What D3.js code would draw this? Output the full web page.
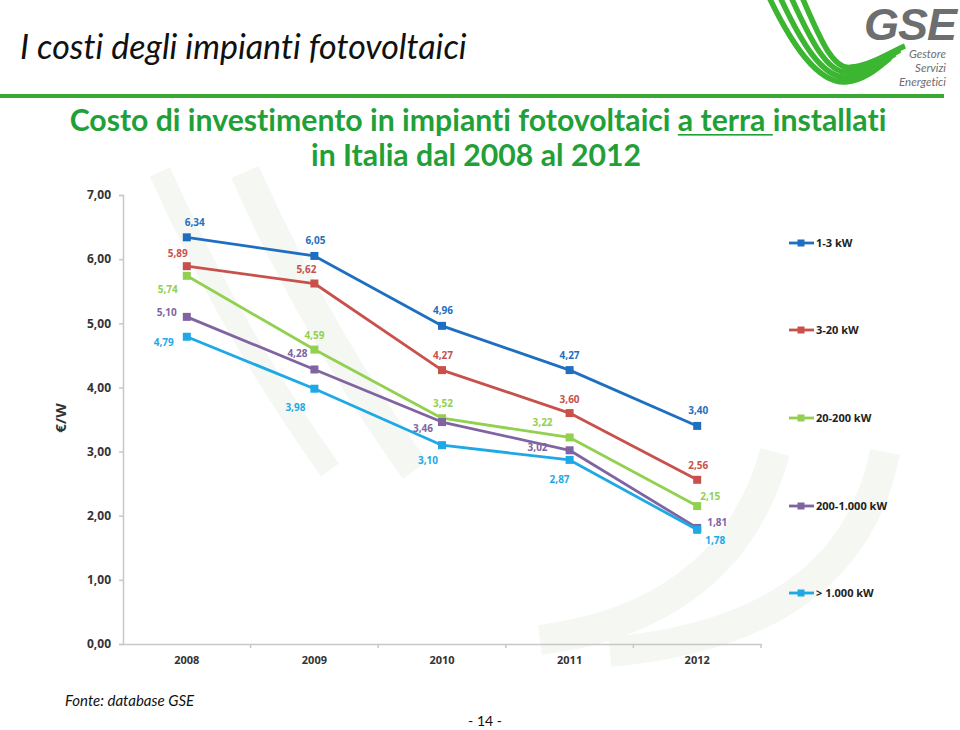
<!DOCTYPE html>
<html><head><meta charset="utf-8">
<script src="https://cdn.jsdelivr.net/npm/d3@7"></script>
<style>body{margin:0;background:#fff} svg{display:block} text{font-variant-ligatures:none;font-feature-settings:"liga" 0}</style>
</head><body><svg id="c" width="960" height="730"></svg>
<script>
// ---- data ----
const years = ["2008","2009","2010","2011","2012"];
const seriesNames = ["1-3 kW","3-20 kW","20-200 kW","200-1.000 kW","> 1.000 kW"];
const s1_3      = [6.34,6.05,4.96,4.27,3.40];
const s3_20     = [5.89,5.62,4.27,3.60,2.56];
const s20_200   = [5.74,4.59,3.52,3.22,2.15];
const s200_1000 = [5.10,4.28,3.46,3.02,1.81];
const s1000     = [4.79,3.98,3.10,2.87,1.78];
const yTicks = [0,1,2,3,4,5,6,7];

// ---- layout / style (kept separate from data) ----
const colors = ["#1f6fc0","#c9514c","#92d050","#8064a2","#1ea9e6"];
const labelOffsets = [
  [[8,-15],[1,-15],[1,-15],[0,-15],[1,-15]],
  [[-9,-13],[-8,-14],[1,-15],[0,-14],[1,-14]],
  [[-19,14],[0,-14],[1,-15],[-27,-15],[13,-10]],
  [[-20,-4],[-17,-16],[-19,6],[-32,-3],[20,-5]],
  [[-23,6],[-19,19],[-14,15],[-10,20],[18,11]]
];
const legendY = [243,330,418,506,593];

const seriesValues = [s1_3,s3_20,s20_200,s200_1000,s1000];
const svg = d3.select("#c");

// faint watermark swooshes
const wm = svg.append("g").attr("fill","none").attr("stroke","#f4f7f2").attr("stroke-linecap","butt");
[[0,22],[85,30]].forEach(([o,w])=>{
  wm.append("path").attr("stroke-width",w)
    .attr("d",`M${160+o},172 Q${230+o},330 ${330+o},470`);
});
wm.append("path").attr("stroke-width",30).attr("d","M540,640 Q730,615 775,452");
wm.append("path").attr("stroke-width",30).attr("d","M610,652 Q850,630 885,452");

// ---- header ----
const title = svg.append("text").attr("x",20).attr("y",59)
  .attr("font-family","Lato, 'Open Sans', sans-serif").attr("font-style","italic")
  .attr("font-size",30).attr("fill","#111").text("I costi degli impianti fotovoltaici");
const tw = title.node().getComputedTextLength();
title.attr("font-size", Math.min(34, 30 * 473 / tw));

svg.append("rect").attr("x",0).attr("y",94).attr("width",944).attr("height",4).attr("fill","#3aaa35");

// logo
const logo = svg.append("g").attr("fill","none").attr("stroke","#3cb531").attr("stroke-width",5.5).attr("stroke-linecap","butt");
[0,1,2,3].forEach(i=>{
  logo.append("path").attr("d",
    `M${769+i*11},-3 C${792+i*9},${45-i*3} ${818+i*5},${84-i*4} ${846+i*2},${82-i*5} C${866+i*2},${80-i*5} ${880+i*4},${66-i*5} ${890+i*5},${58-i*4}`);
});
svg.append("text").attr("x",956).attr("y",40).attr("text-anchor","end")
  .attr("font-family","'Liberation Sans', Arial, sans-serif").attr("font-weight","bold").attr("font-style","italic")
  .attr("font-size",45).attr("fill","#6d6e70").attr("letter-spacing",-1).text("GSE");
[["Gestore",58],["Servizi",72],["Energetici",86]].forEach(([t,y])=>{
  svg.append("text").attr("x",946).attr("y",y).attr("text-anchor","end")
    .attr("font-family","Lato, sans-serif").attr("font-style","italic")
    .attr("font-size",11.5).attr("fill","#6d6e70").text(t);
});

// subtitle
const subColor = "#22a038";
const sub1 = svg.append("text").attr("x",478).attr("y",131).attr("text-anchor","middle")
  .attr("font-family","Lato, sans-serif").attr("font-weight","bold")
  .attr("font-size",26).attr("fill",subColor);
const pre = "Costo di investimento in impianti fotovoltaici ";
const und = "a terra ";
const post = " installati";
sub1.text(pre + und + post);
let w1 = sub1.node().getComputedTextLength();
const fs1 = 26 * 817 / w1;
sub1.attr("font-size",fs1);
w1 = sub1.node().getComputedTextLength();
const n = sub1.node();
const ux0 = 478 - w1/2 + n.getSubStringLength(0, pre.length);
const uw = n.getSubStringLength(pre.length, und.length);
svg.append("rect").attr("x",ux0).attr("y",134).attr("width",uw).attr("height",1.6).attr("fill",subColor);

svg.append("text").attr("x",476).attr("y",166).attr("text-anchor","middle")
  .attr("font-family","Lato, sans-serif").attr("font-weight","bold")
  .attr("font-size",fs1).attr("fill",subColor).text("in Italia dal 2008 al 2012");

// ---- chart ----
const x = d3.scaleBand().domain(years).range([123,761]).paddingInner(0).paddingOuter(0);
const y = d3.scaleLinear().domain([0,7]).range([644,195]);
const cx = d => x(d) + x.bandwidth()/2;

const axisFont = "'Open Sans', Lato, sans-serif";
// y axis
const ya = svg.append("g").attr("transform","translate(123,0)")
  .call(d3.axisLeft(y).tickValues(yTicks).tickSize(4).tickPadding(8)
    .tickFormat(v => d3.format(".2f")(v).replace(".",",")));
ya.select(".domain").attr("stroke","#c8c8c8").attr("stroke-width",1.5);
ya.selectAll(".tick line").attr("stroke","#c8c8c8").attr("stroke-width",1.5);
ya.selectAll(".tick text").attr("font-family",axisFont).attr("font-weight","bold")
  .attr("font-size",12).attr("fill","#333");

// x axis
const xa = svg.append("g").attr("transform","translate(0,644)")
  .call(d3.axisBottom(x).tickSize(0).tickPadding(12));
xa.select(".domain").attr("stroke","#c8c8c8").attr("stroke-width",1.5);
xa.selectAll(".tick text").attr("font-family",axisFont).attr("font-weight","bold")
  .attr("font-size",11).attr("fill","#333");
const bounds = years.slice(1).map(d => x(d)).concat([x(years[years.length-1]) + x.bandwidth()]);
xa.selectAll(".bt").data(bounds).enter().append("line").attr("class","bt")
  .attr("x1",d=>d).attr("x2",d=>d).attr("y1",0).attr("y2",4)
  .attr("stroke","#c8c8c8").attr("stroke-width",1.5);

svg.append("text").attr("transform","translate(66,418) rotate(-90)").attr("text-anchor","middle")
  .attr("font-family",axisFont).attr("font-weight","bold").attr("font-size",15).attr("fill","#333").text("€/W");

// series
const line = d3.line().x((v,i)=>cx(years[i])).y(v=>y(v));
seriesValues.forEach((vals,si)=>{
  const g = svg.append("g");
  g.append("path").datum(vals).attr("d",line).attr("fill","none")
    .attr("stroke",colors[si]).attr("stroke-width",2.8).attr("stroke-linejoin","round");
  g.selectAll("rect").data(vals).enter().append("rect")
    .attr("x",(v,i)=>cx(years[i])-4).attr("y",v=>y(v)-4).attr("width",8).attr("height",8)
    .attr("fill",colors[si]);
  g.selectAll("text").data(vals).enter().append("text")
    .attr("x",(v,i)=>cx(years[i]) + labelOffsets[si][i][0])
    .attr("y",(v,i)=>y(v) + labelOffsets[si][i][1] + 3.5)
    .attr("text-anchor","middle")
    .attr("font-family",axisFont).attr("font-weight","bold").attr("font-size",10)
    .attr("fill",colors[si])
    .text(v => d3.format(".2f")(v).replace(".",","));
});

// legend
seriesNames.forEach((name,si)=>{
  const g = svg.append("g").attr("transform",`translate(0,${legendY[si]})`);
  g.append("line").attr("x1",789).attr("x2",814).attr("y1",0).attr("y2",0)
    .attr("stroke",colors[si]).attr("stroke-width",2.8);
  g.append("rect").attr("x",797.5).attr("y",-3.5).attr("width",7).attr("height",7).attr("fill",colors[si]);
  g.append("text").attr("x",816).attr("y",4).attr("font-family",axisFont).attr("font-weight","bold")
    .attr("font-size",11).attr("fill","#222").text(name);
});

// footer
svg.append("text").attr("x",65).attr("y",706).attr("font-family","Lato, sans-serif").attr("font-style","italic")
  .attr("font-size",15).attr("fill","#111").text("Fonte: database GSE");
svg.append("text").attr("x",485).attr("y",726).attr("text-anchor","middle").attr("font-family","Lato, sans-serif")
  .attr("font-size",14).attr("fill","#111").text("- 14 -");
</script>
</body></html>
